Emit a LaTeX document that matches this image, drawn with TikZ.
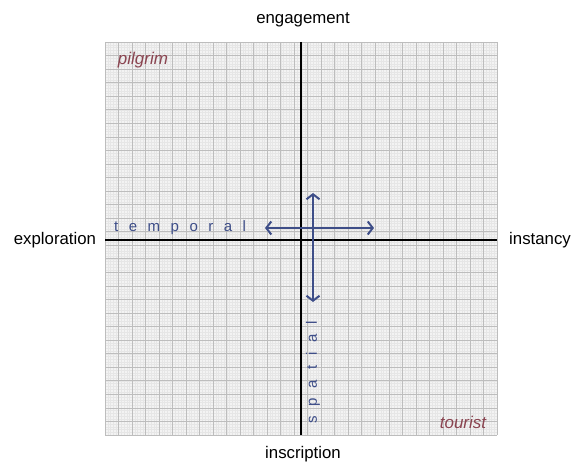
\documentclass[tikz,border=0pt]{standalone}
\usepackage{fontspec}
\setmainfont{Liberation Sans}
\usetikzlibrary{arrows.meta}
\definecolor{gridbg}{HTML}{F3F3F3}
\definecolor{gridminor}{HTML}{E6E6E6}
\definecolor{gridmajor}{HTML}{BDBDBD}
\definecolor{dimblue}{HTML}{3E4E88}
\definecolor{rolered}{HTML}{8A4450}
\tikzset{
  axislabel/.style={font=\fontsize{16.8}{19}\selectfont, text=black, inner sep=0pt},
  rolelabel/.style={font=\fontsize{17}{19}\selectfont\itshape, text=rolered, inner sep=0pt},
  dimlabel/.style={font=\fontsize{15}{17}\selectfont\addfontfeature{LetterSpace=70}, text=dimblue, inner sep=0pt},
  dimlabelv/.style={font=\fontsize{15}{17}\selectfont\addfontfeature{LetterSpace=66}, text=dimblue, inner sep=0pt},
  axisline/.style={line width=2.4pt, black},
  dimarrow/.style={line width=2pt, dimblue, {Straight Barb[length=5pt,width=13pt,line width=2pt]}-{Straight Barb[length=5pt,width=13pt,line width=2pt]}},
}
\begin{document}
\begin{tikzpicture}[x=1pt,y=-1pt]
\useasboundingbox (0,0) rectangle (572,462);
% grid
\fill[gridbg] (105,42) rectangle (497,435);
\foreach \i in {0,...,145} {
  \draw[gridminor, line width=0.25pt] ({105+\i*2.7034},42) -- ({105+\i*2.7034},435);
  \draw[gridminor, line width=0.25pt] (105,{42+\i*2.7103}) -- (497,{42+\i*2.7103});
}
\foreach \i in {0,...,29} {
  \draw[gridmajor, line width=0.7pt] ({105+\i*13.517},42) -- ({105+\i*13.517},435);
  \draw[gridmajor, line width=0.7pt] (105,{42+\i*13.552}) -- (497,{42+\i*13.552});
}
% axes
\coordinate (ytop) at (301,42);
\coordinate (ybot) at (301,435);
\coordinate (xleft) at (105,240);
\coordinate (xright) at (497,240);
\draw[axisline] (ytop) -- (ybot);
\draw[axisline] (xleft) -- (xright);
% axis labels
\node[axislabel] (eng) at (303,20) {engagement};
\node[axislabel] (ins) at (303,454) {inscription};
\node[axislabel] (exp) at (55,240) {exploration};
\node[axislabel] (inst) at (540,240) {instancy};
% roles
\node[rolelabel] (pil) at (143,60) {pilgrim};
\node[rolelabel] (tou) at (463,422) {tourist};
% dimension arrows
\coordinate (tl) at (265,228);
\coordinate (tr) at (374,228);
\coordinate (st) at (313,193);
\coordinate (sb) at (313,302);
\draw[dimarrow] (tl) -- (tr);
\draw[dimarrow] (st) -- (sb);
\node[dimlabel, anchor=west] (temp) at (114,228) {temporal};
\node[dimlabelv, anchor=west, rotate=90] (spat) at (313,424) {spatial};
\end{tikzpicture}
\end{document}
